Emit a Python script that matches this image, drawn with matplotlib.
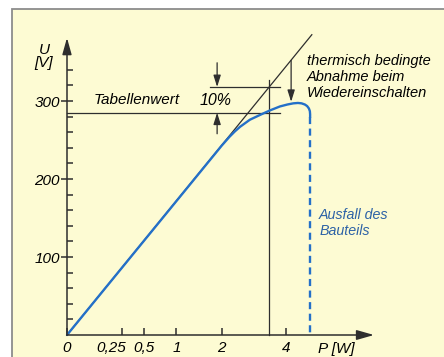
import numpy as np
import matplotlib
matplotlib.use("Agg")
import matplotlib.pyplot as plt
from matplotlib.patches import Rectangle
from matplotlib.transforms import ScaledTranslation

# =========================
# DATA
# =========================

# Kennlinie (blau), P in W, U in V
curve_p = [0, 2.0, 2.2, 2.35, 2.5, 2.79, 3.1, 3.44, 3.78, 4.05, 4.27, 4.45,
           4.59, 4.72, 4.81, 4.88, 4.92, 4.93, 4.93]
curve_u = [0, 243, 254, 261, 267, 276, 282, 288, 293, 295.5, 297, 297.5,
           297, 295.5, 293.5, 290.5, 287, 283, 279]

# Ausfall des Bauteils (gestrichelt)
fail_p = [4.93, 4.93]
fail_u = [279, 0]

# ideale Gerade U ~ sqrt(P)
ideal_p = [0, 5.0]
ideal_u = [0, 385]

tabellenwert = 285
oberer_wert = 318
p_schnitt = 3.42

xticks = [0, 0.25, 0.5, 1, 2, 4]
xtick_labels = ["0", "0,25", "0,5", "1", "2", "4"]
yticks = [100, 200, 300]
ytick_labels = ["100", "200", "300"]

# =========================
# STYLE
# =========================

yellow = "#fdfbd3"
dark = "#2e2e2e"
blue = "#2470c8"
text_blue = "#2d62a6"

plt.rcParams["font.family"] = ["Liberation Sans", "DejaVu Sans"]
plt.rcParams["font.style"] = "italic"

fig = plt.figure(figsize=(4.44, 3.57), dpi=100, facecolor="white")

# gelber Rahmen
fig.add_artist(Rectangle(
    (12 / 444, -0.1), 1.1, 1.1 - 9 / 357,
    transform=fig.transFigure,
    facecolor=yellow, edgecolor="#8c8c8c", linewidth=1.3, zorder=0
))

ax = fig.add_axes([0, 0, 1, 1])
ax.patch.set_visible(False)

fwd = lambda x: np.sign(x) * np.sqrt(np.abs(x))
inv = lambda s: np.sign(s) * s ** 2
ax.set_xscale("function", functions=(fwd, inv))
ax.set_xlim(-0.3742, 11.855)
ax.set_ylim(-28.2, 429.5)

# =========================
# AXES
# =========================

for side in ["top", "right"]:
    ax.spines[side].set_visible(False)
ax.spines["left"].set_position(("data", 0))
ax.spines["bottom"].set_position(("data", 0))
ax.spines["left"].set_bounds(0, 372)
ax.spines["bottom"].set_bounds(0, 7.4)
for side in ["left", "bottom"]:
    ax.spines[side].set_color(dark)
    ax.spines[side].set_linewidth(1.1)

ax.set_xticks(xticks, xtick_labels)
ax.set_yticks(yticks, ytick_labels)
ax.set_yticks(np.arange(20, 360, 20), minor=True)
ax.tick_params(axis="y", which="major", direction="inout", length=8.5,
               width=1.1, color=dark, pad=1, labelsize=11)
ax.tick_params(axis="y", which="minor", direction="in", length=4.5,
               width=1.1, color=dark)
ax.tick_params(axis="x", which="major", direction="in", length=5,
               width=1.1, color=dark, pad=4, labelsize=11)

lbl = ax.get_xticklabels()[1]
lbl.set_transform(lbl.get_transform() + ScaledTranslation(-0.11, 0, fig.dpi_scale_trans))

# Pfeilspitzen der Achsen
ax.annotate("", xy=(0, 381), xytext=(0, 360),
            arrowprops=dict(arrowstyle="-|>,head_length=1.0,head_width=0.28",
                            color=dark, lw=1.1, shrinkA=0, shrinkB=0))
ax.annotate("", xy=(7.86, 0), xytext=(7.0, 0),
            arrowprops=dict(arrowstyle="-|>,head_length=1.05,head_width=0.3",
                            color=dark, lw=1.1, shrinkA=0, shrinkB=0))

ax.annotate("U", xy=(0, 365), xytext=(-23, 0), textcoords="offset pixels",
            ha="center", va="center", fontsize=11)
ax.annotate("[V]", xy=(0, 349), xytext=(-23, 0), textcoords="offset pixels",
            ha="center", va="center", fontsize=11)
ax.annotate("P [W]", xy=(6.04, 0), xytext=(0, -14), textcoords="offset pixels",
            ha="center", va="center", fontsize=11)

# =========================
# LINES
# =========================

ax.plot(ideal_p, ideal_u, color=dark, lw=0.9)
ax.plot([0, 3.78], [tabellenwert, tabellenwert], color=dark, lw=0.9)
ax.plot([1.70, 3.78], [oberer_wert, oberer_wert], color=dark, lw=0.9)
ax.plot([p_schnitt, p_schnitt], [0, 327], color=dark, lw=0.9)

ax.plot(curve_p, curve_u, color=blue, lw=1.7, solid_capstyle="round",
        solid_joinstyle="round")
ax.plot(fail_p, fail_u, color=blue, lw=1.7, linestyle=(0, (3.0, 1.9)))

small_arrow = dict(arrowstyle="-|>,head_length=0.7,head_width=0.22",
                   color=dark, lw=0.9, shrinkA=0, shrinkB=0)
ax.annotate("", xy=(1.88, oberer_wert), xytext=(1.88, 349), arrowprops=small_arrow)
ax.annotate("", xy=(1.88, tabellenwert), xytext=(1.88, 258), arrowprops=small_arrow)
ax.annotate("", xy=(4.19, 299), xytext=(4.19, 352), arrowprops=small_arrow)

# =========================
# TEXT
# =========================

ax.text(0.41, 301, "Tabellenwert", ha="center", va="center", fontsize=11)
ax.text(1.83, 301, "10%", ha="center", va="center", fontsize=11.5)
ax.text(4.80, 331, "thermisch bedingte\nAbnahme beim\nWiedereinschalten",
        ha="left", va="center", fontsize=10.5, linespacing=1.2)
ax.text(5.30, 144, "Ausfall des\nBauteils", ha="left", va="center",
        fontsize=10.3, color=text_blue, linespacing=1.2)

fig.savefig("out.png", dpi=100)
plt.close()
